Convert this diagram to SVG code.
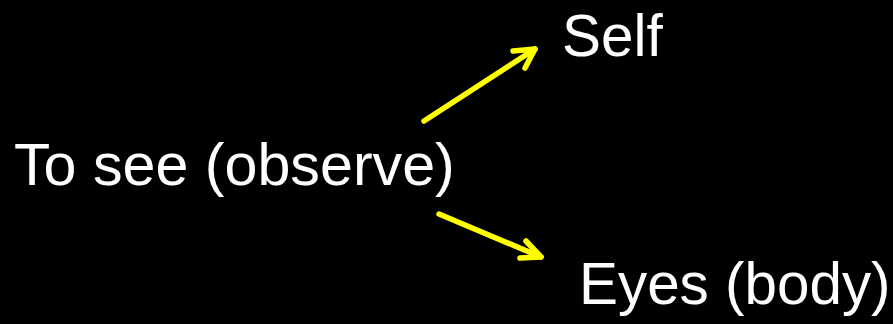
<svg xmlns="http://www.w3.org/2000/svg" width="893" height="324" viewBox="0 0 893 324">
<style>
.t{font-family:"Liberation Sans",Arial,sans-serif;font-size:58.4px;fill:#fff}
.a{stroke:#ffff00;stroke-width:5.5;fill:none;stroke-linecap:round;stroke-linejoin:round}
</style>
<rect width="893" height="324" fill="#000"/>
<g id="source"><text class="t" x="14" y="185" style="font-size:59.2px">To see (observe)</text></g>
<g id="self"><text class="t" x="562" y="56">Self</text></g>
<g id="eyes"><text class="t" x="579" y="304">Eyes (body)</text></g>
<g id="connectors">
<path class="a" d="M424,121 L535,49"/>
<path class="a" d="M513,51 L535,49 L525,68"/>
<path class="a" d="M439,214 L541,257"/>
<path class="a" d="M526,241 L541,257 L520,258"/>
</g>
</svg>
